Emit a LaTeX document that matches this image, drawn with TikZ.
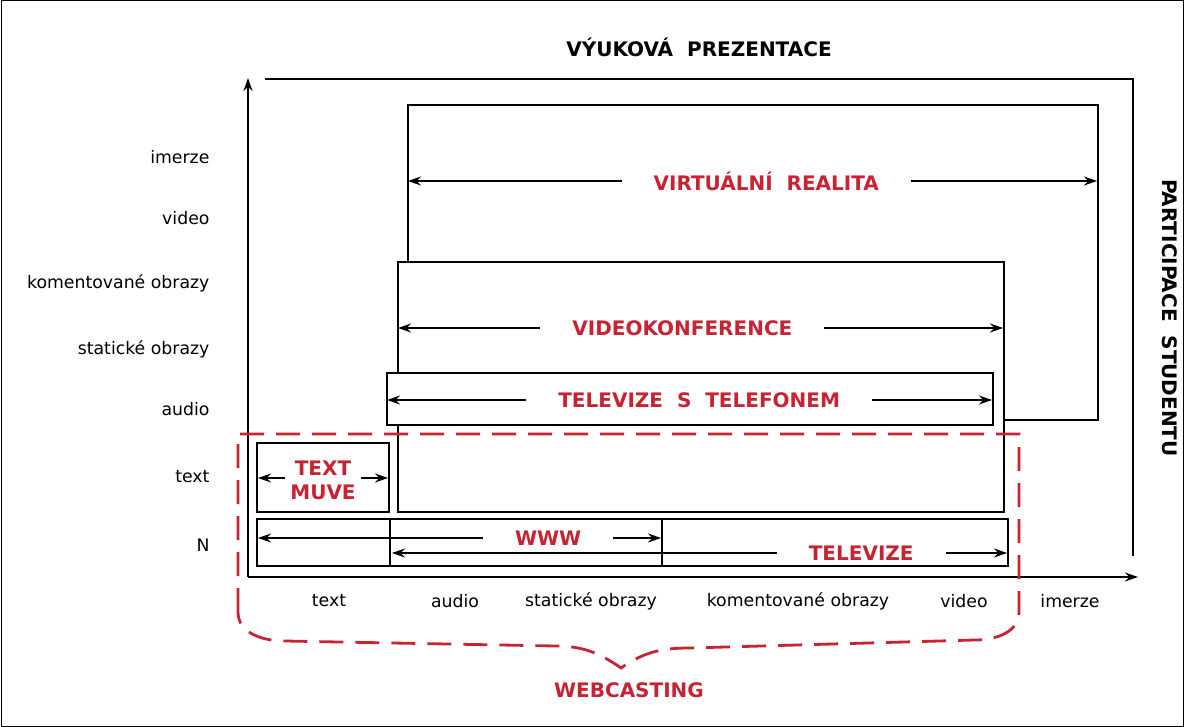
\documentclass[tikz,border=0pt]{standalone}
\usepackage{fontspec}
\setmainfont{DejaVu Sans}
\usepackage{xcolor}
\usepackage{tikz}
\usetikzlibrary{arrows.meta, calc}

\definecolor{castred}{RGB}{200,35,50}
\newcommand{\axislabelfont}{\fontsize{17.3}{20}\selectfont}
\newcommand{\mediumfont}{\bfseries\fontsize{20}{24}\selectfont}

\begin{document}
\begin{tikzpicture}[
        x=1pt, y=-1pt,
        box/.style={draw, line width=1.3pt},
        axis/.style={line width=1.8pt, -{Stealth[length=13pt, width=9pt]}},
        span/.style={line width=1.3pt, {Stealth[length=13pt, width=9pt]}-{Stealth[length=13pt, width=9pt]}},
        medium/.style={fill=white, text=castred, font=\mediumfont, inner xsep=32pt, inner ysep=1pt, align=center},
        ylabel/.style={anchor=east, font=\axislabelfont},
        xlabel/.style={font=\axislabelfont},
        webcast/.style={draw=castred, line width=2.8pt, dash pattern=on 24pt off 12pt}
    ]
    \useasboundingbox (0,0) rectangle (1184,727);
    \draw[line width=1pt] (1,1) rectangle (1183,726);

    % Axes
    \coordinate (origin) at (248,577);
    \coordinate (ytip) at (248,78);
    \coordinate (xtip) at (1138,577);
    \draw[axis] (origin) -- (ytip);
    \draw[axis] (origin) -- (xtip);
    \draw[line width=1.8pt] (265,79) -- (1133,79) -- (1133,556);

    \node[font=\mediumfont] (title) at (699,47) {VÝUKOVÁ\ \ PREZENTACE};
    \node[font=\mediumfont, rotate=-90] (part) at (1170,318) {PARTICIPACE\ \ STUDENTU};

    % Axis labels
    \node[ylabel] (y-imerze) at (213,157) {imerze};
    \node[ylabel] (y-video) at (213,218) {video};
    \node[ylabel] (y-koment) at (213,283) {komentované obrazy};
    \node[ylabel] (y-stat) at (213,349) {statické obrazy};
    \node[ylabel] (y-audio) at (213,409) {audio};
    \node[ylabel] (y-text) at (213,477) {text};
    \node[ylabel] (y-n) at (213,545) {N};

    \node[xlabel] (x-text) at (329,601) {text};
    \node[xlabel] (x-audio) at (455,601) {audio};
    \node[xlabel] (x-stat) at (591,601) {statické obrazy};
    \node[xlabel] (x-koment) at (798,601) {komentované obrazy};
    \node[xlabel] (x-video) at (964,601) {video};
    \node[xlabel] (x-imerze) at (1070,601) {imerze};

    % Boxes
    \draw[box] (408,262) -- (408,105) -- (1098,105) -- (1098,420) -- (1004,420);
    \draw[box, fill=white] (398,262) rectangle (1004,512);
    \draw[box, fill=white] (387,373) rectangle (993,425);
    \draw[box] (257,443) rectangle (389,512);
    \draw[box] (257,519) rectangle (1008,566);
    \draw[box] (390,519) -- (390,566);
    \draw[box] (662,519) -- (662,566);

    % Spans
    \coordinate (vr-l) at (408,181);
    \coordinate (vr-r) at (1097,181);
    \coordinate (vk-l) at (398,328);
    \coordinate (vk-r) at (1003,328);
    \coordinate (tst-l) at (387,400);
    \coordinate (tst-r) at (992,400);
    \coordinate (muve-l) at (258,478);
    \coordinate (muve-r) at (388,478);
    \coordinate (www-l) at (258,538);
    \coordinate (www-r) at (661,538);
    \coordinate (tv-l) at (392,553);
    \coordinate (tv-r) at (1007,553);

    \draw[span] (vr-l) -- node[medium, pos=.52] (vr) {VIRTUÁLNÍ\ \ REALITA} (vr-r);
    \draw[span] (vk-l) -- node[medium, pos=.47] (vk) {VIDEOKONFERENCE} (vk-r);
    \draw[span] (tst-l) -- node[medium, pos=.516] (tst) {TELEVIZE\ \ S\ \ TELEFONEM} (tst-r);
    \draw[span] (muve-l) -- node[medium, inner xsep=5pt, yshift=-2pt] (muve) {TEXT\\MUVE} (muve-r);
    \draw[span] (www-l) -- node[medium, pos=.72] (www) {WWW} (www-r);
    \draw[span] (tv-l) -- node[medium, pos=.763] (tv) {TELEVIZE} (tv-r);

    % Webcasting
    \draw[webcast] (238,612) -- (238,434) -- (1019,434) -- (1019,612)
        to[out=-90, in=0] (975,640) -- (690,648)
        to[out=180, in=35] (621,668)
        to[out=145, in=0] (555,646) -- (285,641)
        to[out=180, in=-90] (238,612);
    \node[font=\mediumfont, text=castred] (webcasting) at (629,690) {WEBCASTING};

\end{tikzpicture}
\end{document}
